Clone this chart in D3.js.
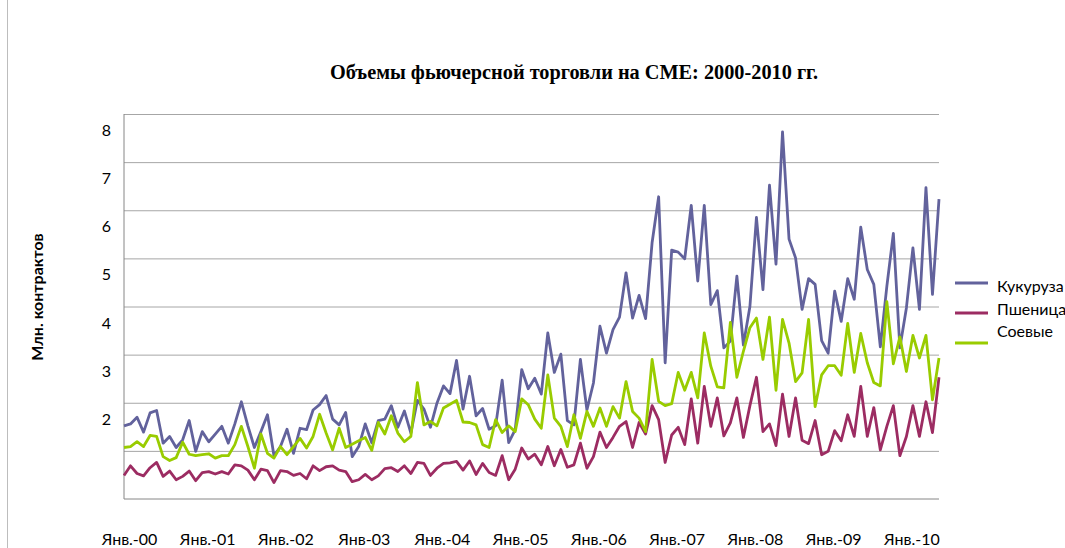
<!DOCTYPE html>
<html>
<head>
<meta charset="utf-8">
<script src="https://cdn.jsdelivr.net/npm/d3@7"></script>
<style>
  body { margin: 0; background: #fff; }
  text { font-family: Lato, "Open Sans", sans-serif; }
</style>
</head>
<body>
<div id="chart"></div>
<script>
// monthly volumes, Jan 2000 .. Jun 2010, mln contracts
var corn = [1.52,1.56,1.70,1.39,1.79,1.84,1.16,1.30,1.07,1.23,1.63,0.99,1.40,1.19,1.35,1.51,1.16,1.56,2.02,1.52,1.07,1.40,1.75,0.90,1.09,1.45,0.95,1.47,1.44,1.85,1.96,2.15,1.66,
  1.54,1.80,0.88,1.09,1.56,1.17,1.63,1.66,1.94,1.49,1.83,1.37,2.05,1.87,1.49,1.99,2.35,2.19,2.88,1.87,2.55,1.73,1.88,1.45,1.52,2.47,1.17,1.44,2.69,2.29,2.51,2.18,
  3.45,2.63,3.01,1.63,1.54,2.90,1.85,2.41,3.59,3.03,3.52,3.78,4.70,3.76,4.23,3.75,5.33,6.28,2.83,5.17,5.13,4.99,6.10,4.53,6.10,4.04,4.33,3.14,3.28,4.63,3.20,4.00,
  5.85,4.35,6.52,4.88,7.63,5.40,5.01,3.94,4.58,4.46,3.29,3.03,4.32,3.69,4.58,4.15,5.65,4.77,4.46,3.16,4.42,5.52,3.14,3.97,5.22,3.94,6.47,4.25,6.23]
var wheat = [0.49,0.69,0.53,0.48,0.65,0.76,0.47,0.58,0.40,0.47,0.58,0.38,0.55,0.57,0.52,0.57,0.52,0.71,0.69,0.60,0.40,0.62,0.59,0.34,0.59,0.57,0.49,0.53,0.42,0.69,0.59,0.67,0.69,
  0.60,0.57,0.36,0.40,0.51,0.40,0.48,0.63,0.65,0.57,0.69,0.53,0.76,0.74,0.49,0.64,0.74,0.75,0.78,0.60,0.79,0.51,0.74,0.55,0.49,0.90,0.40,0.62,1.06,0.83,0.93,0.71,
  1.09,0.69,1.03,0.66,0.71,1.16,0.64,0.88,1.39,1.07,1.28,1.51,1.61,1.07,1.59,1.35,1.94,1.65,0.76,1.33,1.49,1.13,2.08,1.16,2.34,1.51,2.10,1.31,1.58,2.10,1.28,1.94,
  2.53,1.40,1.56,1.11,2.18,1.30,2.10,1.22,1.15,1.63,0.92,0.99,1.42,1.21,1.75,1.30,2.34,1.30,1.90,1.02,1.51,1.94,0.90,1.30,1.94,1.30,2.02,1.38,2.53]
var soy = [1.07,1.09,1.19,1.09,1.32,1.30,0.88,0.80,0.86,1.18,0.93,0.90,0.92,0.94,0.85,0.90,0.90,1.13,1.51,1.09,0.64,1.35,0.95,0.85,1.09,0.92,1.09,1.26,1.06,1.30,1.76,1.37,1.02,
  1.47,1.07,1.14,1.21,1.28,1.01,1.59,1.35,1.73,1.37,1.19,1.30,2.42,1.54,1.61,1.52,1.89,1.97,2.05,1.60,1.59,1.54,1.13,1.07,1.65,1.38,1.52,1.40,2.08,1.96,1.66,1.47,
  2.58,1.68,1.51,1.09,1.75,1.26,1.82,1.51,1.89,1.51,1.92,1.68,2.44,1.82,1.68,1.40,2.90,2.03,1.94,1.98,2.63,2.26,2.63,2.10,3.45,2.76,2.33,2.31,3.67,2.53,3.07,3.56,
  3.76,2.90,3.78,2.26,3.73,3.24,2.44,2.62,3.73,1.92,2.58,2.77,2.77,2.57,3.65,2.63,3.44,2.83,2.42,2.35,4.10,2.81,3.37,2.65,3.40,2.93,3.40,2.06,2.93]

var seriesNames = ["Кукуруза", "Пшеница", "Соевые"]
var seriesColors = ["#62629c", "#9c2c62", "#99cc00"]
var xLabels = ["Янв.-00","Янв.-01","Янв.-02","Янв-03","Янв.-04","Янв.-05","Янв.-06","Янв.-07","Янв.-08","Янв.-09","Янв.-10"]
var gridValues = [1,2,3,4,5,6,7,8]
var yLabels = [2,3,4,5,6,7,8]

var svgw = 1065, svgh = 548
var margin = {top: 114, right: 126, bottom: 49, left: 124}
var w = svgw - margin.left - margin.right
var h = svgh - margin.top - margin.bottom

var svg = d3.select('#chart').append('svg')
    .attr('width', svgw)
    .attr('height', svgh)

// outer chart frame
svg.append('line')
    .attr('x1', 7.5).attr('x2', 7.5)
    .attr('y1', 0).attr('y2', svgh)
    .attr('stroke', '#bdbdbd')

svg.append('text')
    .attr('x', 574)
    .attr('y', 79)
    .attr('text-anchor', 'middle')
    .style('font-family', '"Liberation Serif", "Times New Roman", serif')
    .style('font-weight', 'bold')
    .style('font-size', '20.3px')
    .text('Объемы фьючерсной торговли на CME: 2000-2010 гг.')

var g = svg.append('g').attr('transform', 'translate(' + margin.left + ',' + margin.top + ')')

var x = d3.scaleLinear().domain([0, corn.length - 1]).range([0, w])
var y = d3.scaleLinear().domain([0, 8]).range([h, 0])

// gridlines
g.append('g')
    .attr('class', 'grid')
    .call(d3.axisLeft(y).tickValues(gridValues).tickSize(-w).tickFormat(''))
    .call(function(s){
      s.select('.domain').remove()
      s.selectAll('line').attr('stroke', '#a6a6a6').attr('stroke-width', 1)
    })

// y labels (sit a bit below their gridline, as in the original)
g.append('g')
    .call(d3.axisLeft(y).tickValues(yLabels).tickSize(0).tickPadding(13).tickFormat(d3.format('d')))
    .call(function(s){
      s.select('.domain').remove()
      s.selectAll('text')
        .attr('dy', '1.35em')
        .style('font-size', '16px')
        .style('font-family', 'Lato, sans-serif')
        .attr('fill', '#000')
    })

// axis lines
g.append('line').attr('x1', 0).attr('x2', 0).attr('y1', 0).attr('y2', h).attr('stroke', '#868686')
g.append('line').attr('x1', 0).attr('x2', w).attr('y1', h).attr('y2', h).attr('stroke', '#868686')

// x labels at each January
g.append('g')
    .attr('transform', 'translate(0,' + h + ')')
    .call(d3.axisBottom(x)
        .tickValues(xLabels.map(function(d, i){ return i * 12 }))
        .tickSize(0)
        .tickPadding(35)
        .tickFormat(function(d, i){ return xLabels[i] }))
    .call(function(s){
      s.select('.domain').remove()
      s.selectAll('text')
        .attr('dx', 5)
        .style('font-size', '16px')
        .style('font-family', 'Lato, sans-serif')
        .attr('fill', '#000')
    })

svg.append('text')
    .attr('transform', 'translate(43,297) rotate(-90)')
    .attr('text-anchor', 'middle')
    .style('font-weight', 'bold')
    .style('font-size', '16px')
    .style('font-family', 'Lato, sans-serif')
    .text('Млн. контрактов')

var line = d3.line()
    .x(function(d, i){ return x(i) })
    .y(function(d){ return y(d) })

var allSeries = [corn, wheat, soy]
// draw order: corn, wheat, soy on top
g.selectAll('.series')
    .data(allSeries)
    .enter()
    .append('path')
    .attr('class', 'series')
    .attr('d', line)
    .attr('fill', 'none')
    .attr('stroke', function(d, i){ return seriesColors[i] })
    .attr('stroke-width', 2.8)
    .attr('stroke-linejoin', 'round')

// legend
var legend = svg.append('g').attr('transform', 'translate(955,283)')
legend.selectAll('line')
    .data(seriesNames)
    .enter()
    .append('line')
    .attr('x1', 0).attr('x2', 33)
    .attr('y1', function(d, i){ return i * 30 })
    .attr('y2', function(d, i){ return i * 30 })
    .attr('stroke', function(d, i){ return seriesColors[i] })
    .attr('stroke-width', 2.8)
legend.selectAll('text')
    .data(seriesNames)
    .enter()
    .append('text')
    .attr('x', 42)
    .attr('y', function(d, i){ return 9 + i * 22.5 })
    .style('font-size', '16px')
    .text(function(d){ return d })
</script>
</body>
</html>
